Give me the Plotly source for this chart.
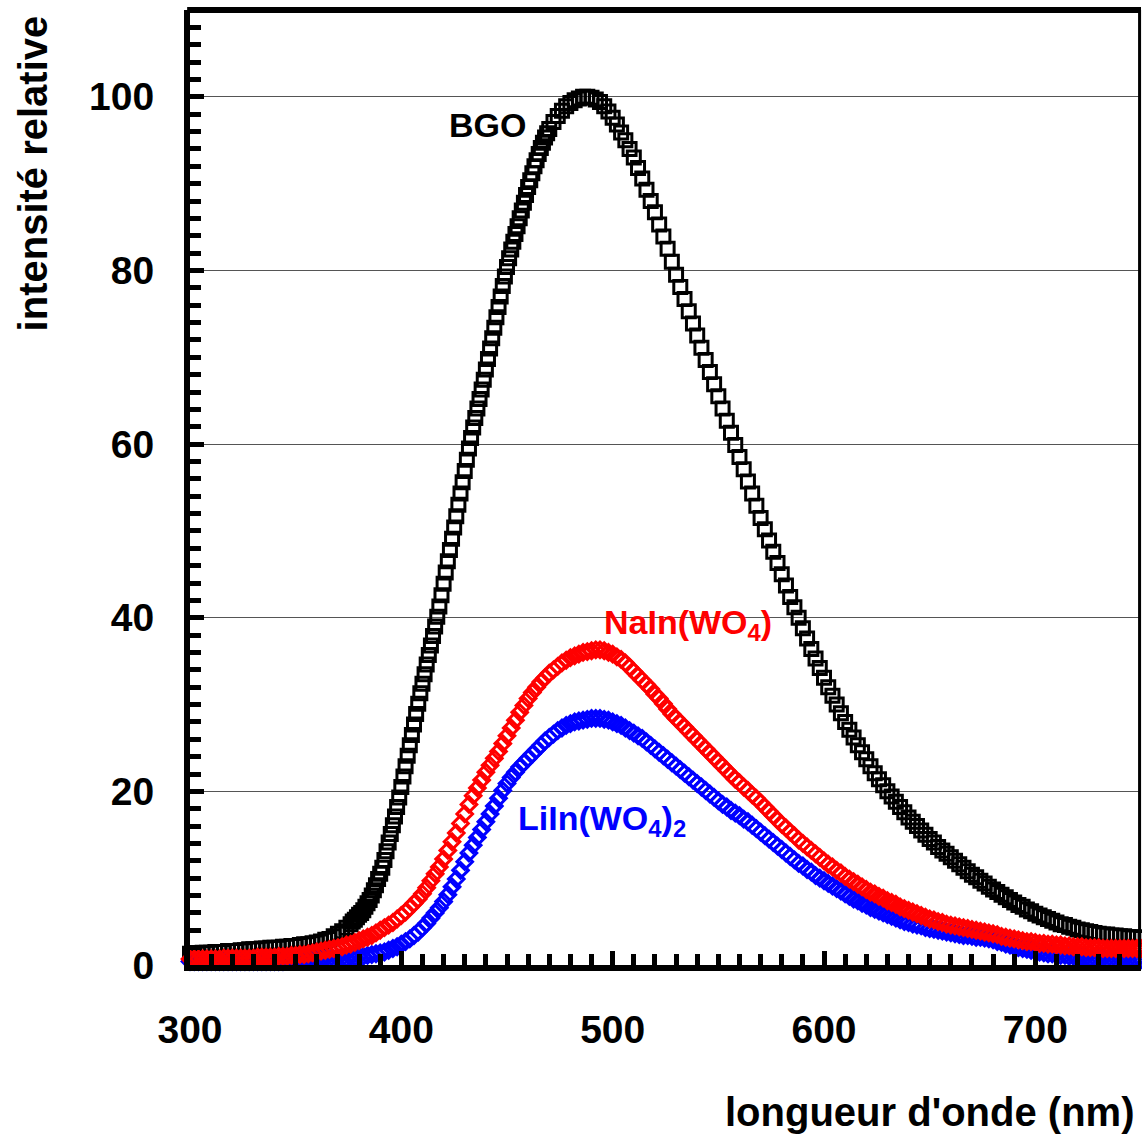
import plotly.graph_objects as go

# ---------------- data ----------------
# wavelength grids (nm)
bgo_nm = list(range(300, 376, 2)) + list(range(376, 471)) + list(range(472, 751, 2))
tung_nm = list(range(300, 751, 2))

# BGO relative intensity
bgo_val = [
    # 300..374 step 2
    1.3, 1.3, 1.3, 1.4, 1.4, 1.4, 1.5, 1.5, 1.5, 1.6,
    1.6, 1.6, 1.7, 1.7, 1.8, 1.8, 1.8, 1.9, 1.9, 2.0,
    2.0, 2.0, 2.1, 2.1, 2.2, 2.2, 2.3, 2.4, 2.4, 2.5,
    2.6, 2.7, 2.9, 3.0, 3.3, 3.6, 3.9, 4.3,
    # 376..470 step 1
    4.7, 5.0, 5.2, 5.5, 5.8, 6.0, 6.3, 6.7, 7.1, 7.5,
    8.0, 8.6, 9.2, 9.9, 10.5, 11.2, 12.1, 13.1, 14.1, 15.1,
    16.1, 17.1, 18.2, 19.3, 20.5, 21.7, 22.9, 24.1, 25.3, 26.5,
    27.7, 28.9, 30.1, 31.3, 32.4, 33.5, 34.6, 35.7, 36.8, 37.9,
    39.0, 40.1, 41.3, 42.6, 43.9, 45.2, 46.5, 47.8, 49.1, 50.4,
    51.7, 53.0, 54.3, 55.6, 56.9, 58.2, 59.5, 60.7, 61.9, 63.0,
    64.1, 65.2, 66.3, 67.4, 68.6, 69.8, 71.0, 72.2, 73.4, 74.6,
    75.8, 77.0, 78.2, 79.3, 80.4, 81.4, 82.4, 83.3, 84.2, 85.1,
    86.0, 86.9, 87.8, 88.7, 89.6, 90.4, 91.2, 92.0, 92.7, 93.4,
    94.1, 94.7, 95.3, 95.8, 96.3,
    # 472..750 step 2
    97.1, 97.8, 98.4, 98.9, 99.3, 99.6, 99.8, 100.0, 100.0, 99.9,
    99.7, 99.4, 98.9, 98.3, 97.6, 96.8, 95.9, 95.0, 94.0, 93.0,
    91.8, 90.6, 89.3, 88.0, 86.7, 85.3, 83.9, 82.5, 81.0, 79.5,
    78.1, 76.7, 75.3, 73.9, 72.5, 71.1, 69.7, 68.3, 66.9, 65.5,
    64.1, 62.7, 61.3, 59.9, 58.5, 57.1, 55.7, 54.3, 52.9, 51.5,
    50.2, 48.9, 47.6, 46.3, 45.0, 43.7, 42.4, 41.2, 40.0, 38.8,
    37.6, 36.4, 35.3, 34.2, 33.1, 32.0, 31.0, 30.0, 29.0, 28.0,
    27.1, 26.2, 25.3, 24.5, 23.7, 22.9, 22.1, 21.4, 20.7, 20.0,
    19.4, 18.8, 18.2, 17.6, 17.0, 16.5, 16.0, 15.5, 15.0, 14.5,
    14.1, 13.6, 13.2, 12.8, 12.4, 12.0, 11.6, 11.2, 10.8, 10.4,
    10.1, 9.7, 9.4, 9.0, 8.7, 8.4, 8.1, 7.8, 7.5, 7.2,
    6.9, 6.7, 6.4, 6.2, 5.9, 5.7, 5.5, 5.3, 5.1, 4.9,
    4.7, 4.6, 4.4, 4.3, 4.1, 4.0, 3.9, 3.8, 3.7, 3.6,
    3.5, 3.5, 3.4, 3.4, 3.3, 3.3, 3.2, 3.2, 3.2, 3.1,
]

# NaIn(WO4) relative intensity, 300..750 step 2
nain_val = [
    0.7, 0.7, 0.7, 0.7, 0.7, 0.7, 0.7, 0.7, 0.8, 0.8,
    0.8, 0.8, 0.8, 0.8, 0.8, 0.8, 0.9, 0.9, 0.9, 0.9,
    0.9, 1.0, 1.0, 1.0, 1.1, 1.1, 1.2, 1.2, 1.3, 1.4,
    1.5, 1.6, 1.7, 1.8, 1.9, 2.0, 2.1, 2.3, 2.4, 2.6,
    2.8, 3.0, 3.2, 3.4, 3.7, 4.0, 4.3, 4.6, 4.9, 5.3,
    5.7, 6.1, 6.6, 7.1, 7.6, 8.2, 8.9, 9.7, 10.5, 11.3,
    12.2, 13.2, 14.2, 15.2, 16.3, 17.4, 18.5, 19.5, 20.4, 21.3,
    22.2, 23.0, 23.8, 24.6, 25.5, 26.4, 27.3, 28.2, 29.1, 29.9,
    30.7, 31.4, 32.0, 32.6, 33.1, 33.6, 34.0, 34.4, 34.8, 35.1,
    35.4, 35.6, 35.8, 36.0, 36.1, 36.2, 36.3, 36.3, 36.2, 36.0,
    35.8, 35.5, 35.2, 34.8, 34.3, 33.8, 33.3, 32.8, 32.3, 31.8,
    31.2, 30.7, 30.1, 29.5, 28.9, 28.4, 27.9, 27.4, 26.9, 26.4,
    25.9, 25.4, 24.9, 24.4, 23.9, 23.4, 22.9, 22.4, 21.9, 21.4,
    21.0, 20.5, 20.1, 19.6, 19.2, 18.7, 18.2, 17.7, 17.2, 16.7,
    16.2, 15.8, 15.3, 14.9, 14.4, 14.0, 13.6, 13.2, 12.8, 12.4,
    12.0, 11.6, 11.3, 10.9, 10.6, 10.2, 9.9, 9.6, 9.3, 9.0,
    8.7, 8.4, 8.2, 7.9, 7.7, 7.4, 7.2, 7.0, 6.7, 6.5,
    6.3, 6.1, 5.9, 5.7, 5.5, 5.3, 5.2, 5.0, 4.9, 4.7,
    4.6, 4.5, 4.4, 4.3, 4.2, 4.1, 4.0, 3.9, 3.8, 3.7,
    3.6, 3.5, 3.3, 3.2, 3.1, 3.0, 2.9, 2.8, 2.7, 2.7,
    2.6, 2.5, 2.5, 2.4, 2.4, 2.3, 2.3, 2.2, 2.2, 2.1,
    2.1, 2.1, 2.0, 2.0, 2.0, 2.0, 1.9, 1.9, 1.9, 1.9,
    1.9, 1.9, 1.9, 1.9, 1.9, 1.9,
]

# LiIn(WO4)2 relative intensity, 300..750 step 2
liin_val = [
    0.4, 0.4, 0.4, 0.4, 0.4, 0.4, 0.4, 0.4, 0.4, 0.4,
    0.4, 0.4, 0.4, 0.4, 0.4, 0.4, 0.4, 0.4, 0.4, 0.4,
    0.4, 0.4, 0.4, 0.5, 0.5, 0.5, 0.5, 0.5, 0.6, 0.6,
    0.6, 0.6, 0.7, 0.7, 0.7, 0.8, 0.8, 0.8, 0.9, 0.9,
    1.0, 1.0, 1.1, 1.2, 1.3, 1.4, 1.5, 1.7, 1.9, 2.1,
    2.4, 2.7, 3.0, 3.4, 3.8, 4.3, 4.8, 5.4, 6.0, 6.6,
    7.3, 8.1, 9.0, 9.9, 10.9, 11.9, 12.9, 13.8, 14.7, 15.6,
    16.5, 17.4, 18.3, 19.2, 20.1, 20.9, 21.6, 22.2, 22.8, 23.3,
    23.8, 24.3, 24.8, 25.3, 25.8, 26.2, 26.6, 27.0, 27.3, 27.6,
    27.8, 28.0, 28.1, 28.2, 28.3, 28.4, 28.4, 28.4, 28.3, 28.2,
    28.0, 27.8, 27.6, 27.3, 27.0, 26.7, 26.4, 26.1, 25.7, 25.3,
    24.9, 24.5, 24.1, 23.7, 23.3, 22.9, 22.5, 22.1, 21.7, 21.3,
    20.9, 20.5, 20.1, 19.7, 19.3, 18.9, 18.5, 18.2, 17.8, 17.5,
    17.2, 16.8, 16.5, 16.1, 15.7, 15.3, 14.9, 14.5, 14.1, 13.7,
    13.3, 12.9, 12.5, 12.1, 11.7, 11.4, 11.0, 10.7, 10.3, 10.0,
    9.7, 9.4, 9.1, 8.8, 8.5, 8.2, 7.9, 7.6, 7.4, 7.1,
    6.9, 6.6, 6.4, 6.2, 6.0, 5.8, 5.6, 5.4, 5.2, 5.0,
    4.9, 4.7, 4.6, 4.5, 4.3, 4.2, 4.1, 4.0, 3.9, 3.8,
    3.7, 3.6, 3.5, 3.4, 3.4, 3.3, 3.2, 3.2, 3.1, 3.0,
    2.9, 2.7, 2.6, 2.4, 2.3, 2.1, 2.0, 1.9, 1.8, 1.7,
    1.6, 1.5, 1.4, 1.3, 1.3, 1.2, 1.1, 1.1, 1.0, 1.0,
    0.9, 0.9, 0.9, 0.8, 0.8, 0.8, 0.8, 0.7, 0.7, 0.7,
    0.7, 0.7, 0.6, 0.6, 0.6, 0.6,
]

assert len(bgo_nm) == len(bgo_val), (len(bgo_nm), len(bgo_val))
assert len(tung_nm) == len(nain_val) == len(liin_val)

x_ticks = [300, 400, 500, 600, 700]
y_ticks = [0, 20, 40, 60, 80, 100]

FONT = "Arial, Liberation Sans, Helvetica, sans-serif"

fig = go.Figure()
fig.add_trace(go.Scatter(
    x=bgo_nm, y=bgo_val, mode="markers", name="BGO", cliponaxis=False,
    marker=dict(symbol="square-open", size=13, color="black", line=dict(width=3, color="black")),
))
fig.add_trace(go.Scatter(
    x=tung_nm, y=liin_val, mode="markers", name="LiIn(WO4)2", cliponaxis=False,
    marker=dict(symbol="diamond-open", size=12, color="#0000FF", line=dict(width=3, color="#0000FF")),
))
fig.add_trace(go.Scatter(
    x=tung_nm, y=nain_val, mode="markers", name="NaIn(WO4)", cliponaxis=False,
    marker=dict(symbol="diamond-open", size=12, color="#FF0000", line=dict(width=3, color="#FF0000")),
))

fig.update_layout(
    width=1142, height=1137,
    margin=dict(l=190, r=1, t=10, b=172),
    paper_bgcolor="white", plot_bgcolor="white",
    showlegend=False,
    font=dict(family=FONT, color="black"),
    xaxis=dict(
        range=[300, 750], tickvals=x_ticks, ticktext=[str(v) for v in x_ticks],
        showgrid=False, zeroline=False,
        showline=True, linewidth=6, linecolor="black",
        ticks="inside", ticklen=14, tickwidth=5, tickcolor="black",
        minor=dict(dtick=10, tick0=300, ticks="inside", ticklen=11, tickwidth=5, tickcolor="black", showgrid=False),
        tickfont=dict(family=FONT, size=39, color="black", weight="bold"),
        ticklabelstandoff=25,
    ),
    yaxis=dict(
        range=[0, 110], tickvals=y_ticks, ticktext=[str(v) for v in y_ticks],
        showgrid=True, gridcolor="#555555", gridwidth=1, zeroline=False,
        showline=True, linewidth=6, linecolor="black",
        ticks="inside", ticklen=14, tickwidth=5, tickcolor="black",
        minor=dict(dtick=2, tick0=0, ticks="inside", ticklen=11, tickwidth=5, tickcolor="black", showgrid=False),
        tickfont=dict(family=FONT, size=39, color="black", weight="bold"),
        ticklabelstandoff=22,
    ),
    shapes=[
        dict(type="line", xref="paper", yref="paper", x0=-0.003, x1=1.0, y0=1.0, y1=1.0,
             line=dict(color="black", width=6)),
        dict(type="line", xref="paper", yref="paper", x0=0.9985, x1=0.9985, y0=0.0, y1=1.0,
             line=dict(color="black", width=3)),
    ],
    annotations=[
        dict(text="BGO", x=441, y=96.7, xref="x", yref="y", showarrow=False,
             font=dict(family=FONT, size=34, color="black", weight="bold")),
        dict(text="NaIn(WO<sub>4</sub>)", x=535.5, y=39.2, xref="x", yref="y", showarrow=False,
             font=dict(family=FONT, size=34, color="#FF0000", weight="bold")),
        dict(text="LiIn(WO<sub>4</sub>)<sub>2</sub>", x=495, y=16.6, xref="x", yref="y", showarrow=False,
             font=dict(family=FONT, size=34, color="#0000FF", weight="bold")),
        dict(text="intensité relative", x=-0.165, y=0.829, xref="paper", yref="paper", textangle=-90,
             showarrow=False, xanchor="center", yanchor="middle",
             font=dict(family=FONT, size=40, color="black", weight="bold")),
        dict(text="longueur d'onde (nm)", x=0.995, y=-0.154, xref="paper", yref="paper",
             showarrow=False, xanchor="right", yanchor="middle",
             font=dict(family=FONT, size=40, color="black", weight="bold")),
    ],
)

fig.write_html(
    "out.html",
    config={"displayModeBar": False},
    post_script="document.body.style.margin='0';document.body.style.padding='0';",
)
